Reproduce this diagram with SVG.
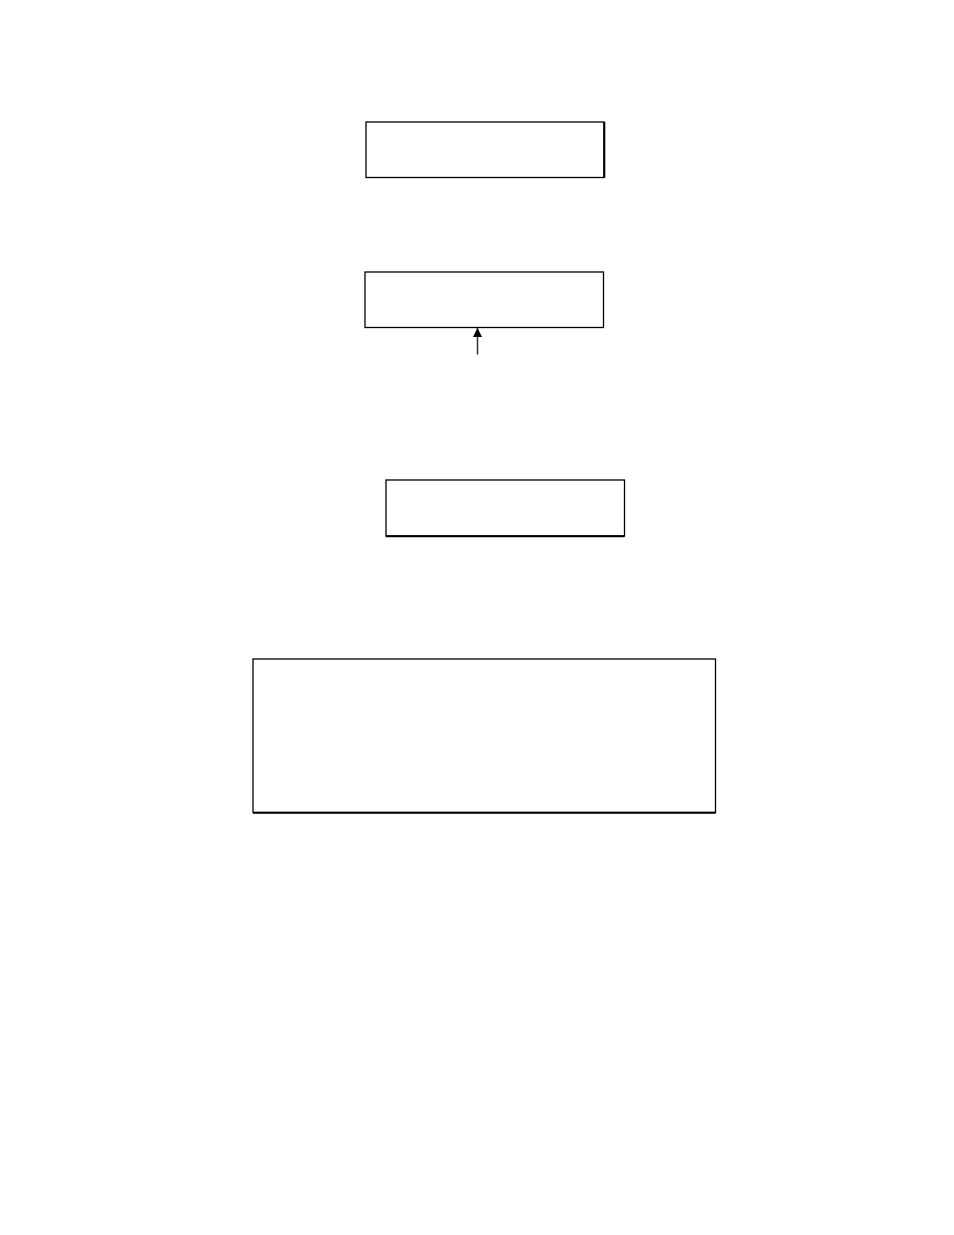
<svg xmlns="http://www.w3.org/2000/svg" width="954" height="1235" viewBox="0 0 954 1235">
<style>
.box{fill:#fff;stroke:#000;stroke-width:1.3}
.edge{stroke:#000;stroke-width:2;fill:none}
.conn{stroke:#333;stroke-width:1.5;fill:none}
</style>
<defs>
<marker id="ah" markerUnits="userSpaceOnUse" markerWidth="9" markerHeight="10" refX="9" refY="4.5" orient="auto">
<path d="M0,0 L9,4.5 L0,9 Z" fill="#000"/>
</marker>
</defs>
<rect width="954" height="1235" fill="#fff"/>
<g id="node1"><rect class="box" x="366" y="122" width="238" height="55.5"/><line class="edge" x1="604.3" y1="122" x2="604.3" y2="177.8"/></g>
<g id="node2"><rect class="box" x="365" y="272" width="238.5" height="55.5"/></g>
<g id="node3"><rect class="box" x="386" y="480" width="238.5" height="56"/><line class="edge" x1="386" y1="536.3" x2="624.5" y2="536.3"/></g>
<g id="node4"><rect class="box" x="253" y="659" width="462.5" height="153.5"/><line class="edge" x1="253" y1="812.8" x2="715.5" y2="812.8"/></g>
<g id="connectors">
<line class="conn" x1="477.5" y1="354.5" x2="477.5" y2="328" marker-end="url(#ah)"/>
</g>
</svg>
